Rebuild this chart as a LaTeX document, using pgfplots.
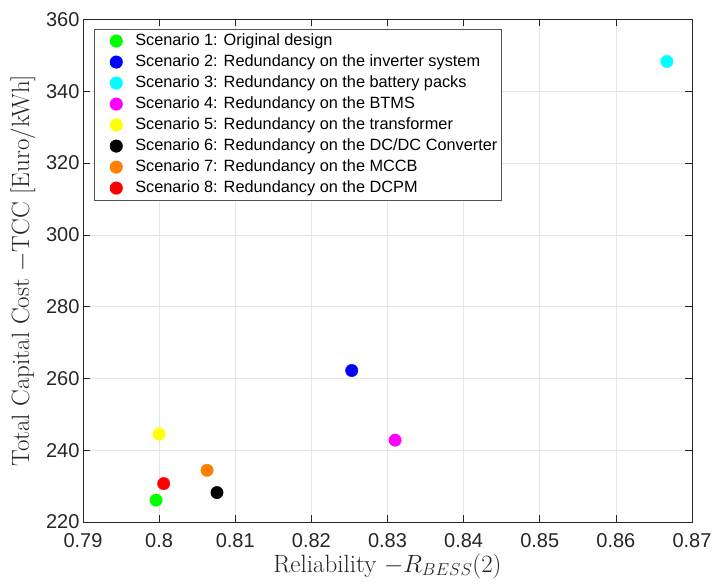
\documentclass[border=0pt]{standalone}
\usepackage{fontspec}
\usepackage{pgfplots}
\pgfplotsset{compat=1.18}
\newfontfamily\arial{Liberation Sans}
\definecolor{axgray}{rgb}{0.15,0.15,0.15}
\definecolor{mgreen}{rgb}{0,1,0}
\definecolor{mblue}{rgb}{0,0,1}
\definecolor{mcyan}{rgb}{0,1,1}
\definecolor{mmagenta}{rgb}{1,0,1}
\definecolor{myellow}{rgb}{1,1,0}
\definecolor{morange}{rgb}{1,0.5,0}
\definecolor{mred}{rgb}{1,0,0}
\begin{document}
\begin{tikzpicture}
\begin{axis}[
  scale only axis,
  width=609pt, height=502.5pt,
  xmin=0.79, xmax=0.87, ymin=220, ymax=360,
  xtick={0.79,0.8,0.81,0.82,0.83,0.84,0.85,0.86,0.87},
  xticklabels={0.79,0.8,0.81,0.82,0.83,0.84,0.85,0.86,0.87},
  ytick={220,240,...,360},
  /pgf/number format/assume math mode=true,
  tick label style={font=\arial\fontsize{20}{24}\selectfont, text=axgray},
  xticklabel style={yshift=-10pt, inner sep=1pt},
  label style={font=\fontsize{25}{30}\selectfont, text=axgray, inner sep=0pt},
  xlabel={Reliability $-R_{BESS}(2)$},
  ylabel={Total Capital Cost $-$TCC [Euro/kWh]},
  xlabel style={at={(axis description cs:0.5,0)}, anchor=center, yshift=-44pt},
  ylabel style={at={(axis description cs:0,0.5)}, anchor=center, yshift=60pt},
  grid=major,
  major grid style={draw=black!10, line width=0.6pt},
  axis line style={draw=axgray, line width=0.6pt},
  tick style={draw=axgray, line width=0.6pt},
  tick align=inside,
  major tick length=7pt,
  legend cell align=left,
  legend image code/.code={\path[draw=none,fill=none] (0pt,0pt) (19pt,0pt); \draw[mark repeat=2, mark phase=2, #1] plot coordinates {(0pt,0pt) (19pt,0pt) (25pt,0pt)};},
  legend style={at={(rel axis cs:0.018,0.981)}, anchor=north west,
    font=\arial\fontsize{16.3}{20}\selectfont, draw=axgray!80, line width=0.6pt,
    inner xsep=3pt, inner ysep=1.5pt, row sep=0.5pt, column sep=11.8pt,
    nodes={inner ysep=2.5pt, inner xsep=1pt, text height=12pt, text depth=3.5pt}},
  every axis plot/.append style={only marks, mark=*, mark size=6.2pt},
]
\addplot[mark options={draw=mgreen, fill=mgreen}] coordinates {(0.7996,226.1)};
\addlegendentry{Scenario 1: Original design}
\addplot[mark options={draw=mblue, fill=mblue}] coordinates {(0.8253,262.2)};
\addlegendentry{Scenario 2: Redundancy on the inverter system}
\addplot[mark options={draw=mcyan, fill=mcyan}] coordinates {(0.8667,348.3)};
\addlegendentry{Scenario 3: Redundancy on the battery packs}
\addplot[mark options={draw=mmagenta, fill=mmagenta}] coordinates {(0.8310,242.8)};
\addlegendentry{Scenario 4: Redundancy on the BTMS}
\addplot[mark options={draw=myellow, fill=myellow}] coordinates {(0.8000,244.5)};
\addlegendentry{Scenario 5: Redundancy on the transformer}
\addplot[mark options={draw=black, fill=black}] coordinates {(0.8076,228.2)};
\addlegendentry{Scenario 6: Redundancy on the DC/DC Converter}
\addplot[mark options={draw=morange, fill=morange}] coordinates {(0.8063,234.4)};
\addlegendentry{Scenario 7: Redundancy on the MCCB}
\addplot[mark options={draw=mred, fill=mred}] coordinates {(0.8006,230.7)};
\addlegendentry{Scenario 8: Redundancy on the DCPM}
\end{axis}
\path (current axis.south west) ++(-83pt,-61pt);
\path (current axis.north east) ++(21pt,19.5pt);
\end{tikzpicture}
\end{document}
